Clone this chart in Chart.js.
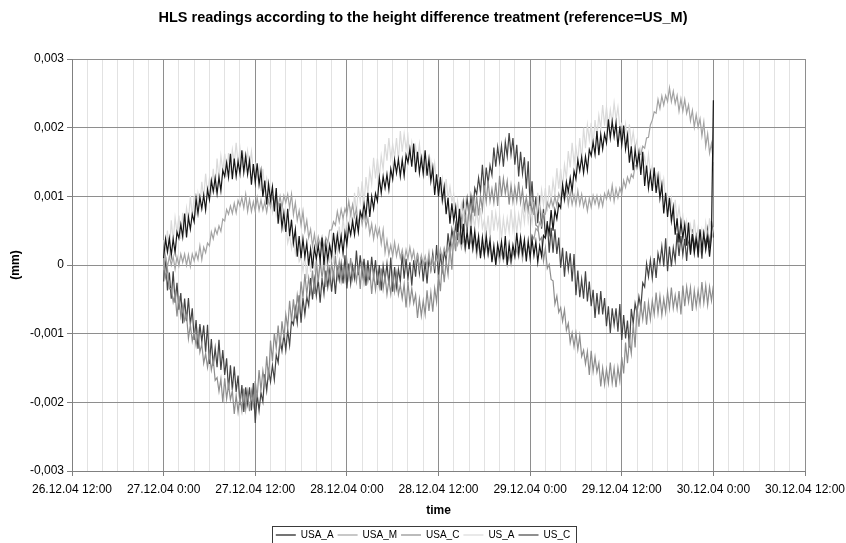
<!DOCTYPE html>
<html>
<head>
<meta charset="utf-8">
<title>HLS readings</title>
<script src="https://cdn.jsdelivr.net/npm/chart.js@4.4.1/dist/chart.umd.min.js"></script>
<style>
    html, body { margin: 0; padding: 0; background: #fff; overflow: hidden; }
    #wrap { width: 846px; height: 543px; overflow: hidden; }
</style>
</head>
<body>
<div id="wrap"><canvas id="hlsChart" width="846" height="550"></canvas></div>
<script>
// axis labels
const xTickLabels = ['26.12.04 12:00', '27.12.04 0:00', '27.12.04 12:00', '28.12.04 0:00', '28.12.04 12:00',
    '29.12.04 0:00', '29.12.04 12:00', '30.12.04 0:00', '30.12.04 12:00'];
const yTickLabels = ['-0,003', '-0,002', '-0,001', '0', '0,001', '0,002', '0,003'];
const seriesNames = ['USA_A', 'USA_M', 'USA_C', 'US_A', 'US_C'];
const seriesColors = ['#161616', '#a3a3a3', '#8e8e8e', '#dadada', '#444444'];

// readings every 15 min starting 27.12.04 0:00, values in µm (0.001 mm), one row = 6 hours
const firstSampleHour = 12;   // hours after 26.12.04 12:00
const sampleStep = 0.25;

const usaA = [
    0.10, 0.38, 0.19, 0.39, 0.14, 0.38, 0.18, 0.48, 0.39, 0.59, 0.41, 0.75, 0.40, 0.70, 0.52, 0.74, 0.63, 0.97, 0.75, 0.99, 0.82, 1.02, 0.80, 1.10,
    0.95, 1.23, 1.07, 1.27, 1.04, 1.28, 1.08, 1.38, 1.29, 1.49, 1.28, 1.62, 1.25, 1.55, 1.29, 1.51, 1.33, 1.67, 1.35, 1.59, 1.32, 1.52, 1.17, 1.47,
    1.20, 1.48, 1.17, 1.37, 0.99, 1.23, 0.88, 1.18, 0.94, 1.14, 0.78, 1.12, 0.60, 0.90, 0.54, 0.76, 0.48, 0.82, 0.42, 0.66, 0.32, 0.52, 0.12, 0.42,
    0.10, 0.38, 0.12, 0.32, -0.01, 0.23, -0.05, 0.25, 0.09, 0.29, 0.06, 0.40, 0.00, 0.30, 0.07, 0.29, 0.13, 0.47, 0.20, 0.44, 0.22, 0.42, 0.17, 0.47,
    0.30, 0.58, 0.44, 0.64, 0.44, 0.68, 0.48, 0.78, 0.69, 0.89, 0.71, 1.05, 0.70, 1.00, 0.82, 1.04, 0.93, 1.27, 1.05, 1.29, 1.12, 1.32, 1.10, 1.40,
    1.25, 1.53, 1.34, 1.54, 1.29, 1.53, 1.30, 1.60, 1.49, 1.69, 1.43, 1.77, 1.35, 1.65, 1.34, 1.56, 1.33, 1.67, 1.30, 1.54, 1.22, 1.42, 1.02, 1.32,
    1.00, 1.28, 0.94, 1.14, 0.74, 0.98, 0.60, 0.90, 0.64, 0.84, 0.48, 0.82, 0.30, 0.60, 0.27, 0.49, 0.23, 0.57, 0.25, 0.49, 0.22, 0.42, 0.10, 0.40,
    0.15, 0.43, 0.17, 0.37, 0.04, 0.28, 0.00, 0.30, 0.14, 0.34, 0.08, 0.42, 0.00, 0.30, 0.07, 0.29, 0.13, 0.47, 0.17, 0.41, 0.17, 0.37, 0.05, 0.35,
    0.10, 0.38, 0.14, 0.34, 0.04, 0.28, 0.13, 0.43, 0.39, 0.59, 0.46, 0.80, 0.50, 0.80, 0.67, 0.89, 0.83, 1.17, 0.97, 1.21, 1.07, 1.27, 1.07, 1.37,
    1.25, 1.53, 1.37, 1.57, 1.34, 1.58, 1.38, 1.68, 1.59, 1.79, 1.61, 1.95, 1.60, 1.90, 1.69, 1.91, 1.78, 2.12, 1.85, 2.09, 1.87, 2.07, 1.72, 2.02,
    1.75, 2.03, 1.69, 1.89, 1.49, 1.73, 1.38, 1.68, 1.44, 1.64, 1.31, 1.65, 1.15, 1.45, 1.12, 1.34, 1.08, 1.42, 1.05, 1.29, 0.97, 1.17, 0.75, 1.05,
    0.70, 0.98, 0.64, 0.84, 0.44, 0.68, 0.33, 0.63, 0.39, 0.59, 0.28, 0.62, 0.15, 0.45, 0.17, 0.39, 0.18, 0.52, 0.22, 0.46, 0.22, 0.42, 0.12, 0.42,
    2.40
];
const usaM = [
    -0.07, 0.13, -0.03, 0.13, 0.00, 0.12, -0.06, 0.12, -0.01, 0.16, 0.04, 0.16, 0.00, 0.15, -0.02, 0.16, 0.06, 0.18, 0.08, 0.28, 0.08, 0.26, 0.18, 0.32,
    0.28, 0.48, 0.38, 0.53, 0.45, 0.57, 0.49, 0.67, 0.64, 0.81, 0.74, 0.86, 0.75, 0.90, 0.76, 0.94, 0.86, 0.98, 0.83, 1.03, 0.78, 0.96, 0.78, 0.92,
    0.78, 0.98, 0.80, 0.95, 0.80, 0.92, 0.77, 0.95, 0.84, 1.01, 0.89, 1.01, 0.85, 1.00, 0.83, 1.01, 0.91, 1.03, 0.83, 1.03, 0.73, 0.91, 0.65, 0.79,
    0.58, 0.78, 0.50, 0.65, 0.40, 0.52, 0.27, 0.45, 0.24, 0.41, 0.29, 0.41, 0.25, 0.40, 0.33, 0.51, 0.51, 0.63, 0.58, 0.78, 0.63, 0.81, 0.68, 0.82,
    0.73, 0.93, 0.73, 0.88, 0.70, 0.82, 0.59, 0.77, 0.59, 0.76, 0.56, 0.68, 0.45, 0.60, 0.38, 0.56, 0.41, 0.53, 0.31, 0.51, 0.18, 0.36, 0.15, 0.29,
    0.13, 0.33, 0.13, 0.28, 0.10, 0.22, 0.04, 0.22, 0.09, 0.26, 0.09, 0.21, 0.00, 0.15, -0.05, 0.14, 0.01, 0.13, -0.02, 0.18, -0.07, 0.11, -0.03, 0.12,
    0.03, 0.23, 0.10, 0.25, 0.15, 0.27, 0.14, 0.32, 0.24, 0.41, 0.29, 0.41, 0.25, 0.40, 0.21, 0.39, 0.26, 0.38, 0.21, 0.41, 0.13, 0.31, 0.13, 0.27,
    0.13, 0.33, 0.13, 0.28, 0.10, 0.22, 0.02, 0.20, 0.04, 0.21, 0.06, 0.18, 0.00, 0.15, 0.01, 0.19, 0.11, 0.23, 0.11, 0.31, 0.08, 0.26, 0.15, 0.29,
    0.23, 0.43, 0.38, 0.53, 0.50, 0.62, 0.57, 0.75, 0.74, 0.91, 0.84, 0.96, 0.85, 1.00, 0.86, 1.04, 0.96, 1.08, 0.93, 1.13, 0.88, 1.06, 0.88, 1.02,
    0.88, 1.08, 0.88, 1.03, 0.85, 0.97, 0.79, 0.97, 0.84, 1.01, 0.89, 1.01, 0.85, 1.00, 0.86, 1.04, 0.96, 1.08, 0.96, 1.16, 0.93, 1.11, 0.98, 1.12,
    1.03, 1.23, 1.13, 1.28, 1.20, 1.32, 1.27, 1.45, 1.44, 1.61, 1.61, 1.73, 1.70, 1.85, 1.86, 2.04, 2.11, 2.23, 2.21, 2.41, 2.28, 2.46, 2.33, 2.47,
    2.38, 2.58, 2.38, 2.53, 2.35, 2.47, 2.24, 2.42, 2.24, 2.41, 2.21, 2.33, 2.10, 2.25, 2.01, 2.19, 2.01, 2.13, 1.88, 2.08, 1.73, 1.91, 1.63, 1.77,
    1.50
];
const usaC = [
    0.06, -0.18, -0.05, -0.35, -0.34, -0.54, -0.41, -0.75, -0.45, -0.75, -0.59, -0.81, -0.73, -1.07, -0.87, -1.11, -0.97, -1.17, -0.97, -1.27, -1.15, -1.43, -1.29, -1.49,
    -1.29, -1.53, -1.38, -1.68, -1.64, -1.84, -1.66, -2.00, -1.65, -1.95, -1.74, -1.96, -1.83, -2.17, -1.90, -2.14, -1.92, -2.12, -1.80, -2.10, -1.85, -2.13, -1.84, -2.04,
    -1.69, -1.93, -1.53, -1.83, -1.54, -1.74, -1.33, -1.67, -1.10, -1.40, -0.99, -1.21, -0.88, -1.22, -0.82, -1.06, -0.72, -0.92, -0.52, -0.82, -0.50, -0.78, -0.44, -0.64,
    -0.24, -0.48, -0.13, -0.43, -0.19, -0.39, -0.08, -0.42, 0.05, -0.25, 0.04, -0.19, 0.02, -0.32, 0.00, -0.24, 0.03, -0.17, 0.13, -0.17, 0.05, -0.23, -0.02, -0.22,
    0.06, -0.18, 0.10, -0.20, -0.04, -0.24, 0.00, -0.35, 0.05, -0.25, -0.02, -0.24, -0.08, -0.42, -0.12, -0.36, -0.12, -0.32, -0.05, -0.35, -0.15, -0.43, -0.22, -0.42,
    -0.14, -0.38, -0.13, -0.43, -0.29, -0.49, -0.28, -0.62, -0.25, -0.55, -0.34, -0.56, -0.43, -0.77, -0.50, -0.74, -0.52, -0.72, -0.37, -0.67, -0.40, -0.68, -0.34, -0.54,
    -0.14, -0.38, 0.05, -0.25, 0.06, -0.14, 0.27, -0.07, 0.50, 0.20, 0.59, 0.37, 0.67, 0.33, 0.73, 0.49, 0.83, 0.63, 1.01, 0.71, 1.00, 0.72, 1.01, 0.81,
    1.16, 0.92, 1.23, 0.93, 1.11, 0.91, 1.20, 0.86, 1.30, 1.00, 1.26, 1.04, 1.22, 0.88, 1.16, 0.92, 1.13, 0.93, 1.21, 0.91, 1.10, 0.82, 0.99, 0.79,
    1.01, 0.77, 0.88, 0.58, 0.56, 0.36, 0.40, 0.06, 0.25, -0.05, 0.01, -0.21, -0.23, -0.57, -0.45, -0.69, -0.62, -0.82, -0.65, -0.95, -0.85, -1.13, -0.99, -1.19,
    -0.99, -1.23, -1.03, -1.33, -1.24, -1.44, -1.26, -1.60, -1.25, -1.55, -1.34, -1.56, -1.43, -1.77, -1.50, -1.74, -1.52, -1.72, -1.42, -1.72, -1.50, -1.78, -1.49, -1.69,
    -1.34, -1.58, -1.13, -1.43, -1.09, -1.29, -0.86, -1.20, -0.60, -0.90, -0.57, -0.79, -0.53, -0.87, -0.55, -0.79, -0.52, -0.72, -0.40, -0.70, -0.45, -0.73, -0.49, -0.69,
    -0.39, -0.63, -0.33, -0.63, -0.44, -0.64, -0.38, -0.72, -0.30, -0.60, -0.32, -0.54, -0.33, -0.67, -0.37, -0.61, -0.37, -0.57, -0.25, -0.55, -0.30, -0.58, -0.32, -0.52,
    -0.30
];
const usA = [
    0.36, 0.16, 0.50, 0.16, 0.65, 0.35, 0.69, 0.47, 0.72, 0.38, 0.76, 0.52, 0.83, 0.63, 1.01, 0.71, 1.00, 0.72, 1.04, 0.84, 1.21, 0.97, 1.33, 1.03,
    1.26, 1.06, 1.40, 1.06, 1.55, 1.25, 1.59, 1.37, 1.62, 1.28, 1.63, 1.39, 1.68, 1.48, 1.78, 1.48, 1.70, 1.42, 1.61, 1.41, 1.66, 1.42, 1.65, 1.35,
    1.46, 1.26, 1.42, 1.08, 1.40, 1.10, 1.26, 1.04, 1.12, 0.78, 0.96, 0.72, 0.83, 0.63, 0.81, 0.51, 0.60, 0.32, 0.44, 0.24, 0.41, 0.17, 0.35, 0.05,
    0.11, -0.09, 0.15, -0.20, 0.20, -0.10, 0.16, -0.06, 0.12, -0.22, 0.13, -0.11, 0.18, -0.02, 0.33, 0.03, 0.30, 0.02, 0.36, 0.16, 0.56, 0.32, 0.70, 0.40,
    0.66, 0.46, 0.85, 0.51, 1.05, 0.75, 1.14, 0.92, 1.22, 0.88, 1.28, 1.04, 1.38, 1.18, 1.56, 1.26, 1.55, 1.27, 1.59, 1.39, 1.76, 1.52, 1.85, 1.55,
    1.76, 1.56, 1.85, 1.51, 1.95, 1.65, 1.91, 1.69, 1.87, 1.53, 1.78, 1.54, 1.73, 1.53, 1.76, 1.46, 1.60, 1.32, 1.49, 1.29, 1.51, 1.27, 1.48, 1.18,
    1.26, 1.06, 1.25, 0.91, 1.25, 0.95, 1.14, 0.92, 1.02, 0.68, 0.93, 0.69, 0.88, 0.68, 0.93, 0.63, 0.80, 0.52, 0.74, 0.54, 0.81, 0.57, 0.83, 0.53,
    0.66, 0.46, 0.72, 0.38, 0.80, 0.50, 0.76, 0.54, 0.72, 0.38, 0.68, 0.44, 0.68, 0.48, 0.81, 0.51, 0.75, 0.47, 0.74, 0.54, 0.86, 0.62, 0.93, 0.63,
    0.81, 0.61, 0.92, 0.58, 1.05, 0.75, 1.09, 0.87, 1.12, 0.78, 1.16, 0.92, 1.23, 1.03, 1.41, 1.11, 1.40, 1.12, 1.46, 1.26, 1.66, 1.42, 1.78, 1.48,
    1.71, 1.51, 1.85, 1.51, 2.00, 1.70, 2.04, 1.82, 2.07, 1.73, 2.11, 1.87, 2.18, 1.98, 2.33, 2.03, 2.30, 2.02, 2.26, 2.06, 2.36, 2.12, 2.30, 2.00,
    2.06, 1.86, 2.05, 1.71, 2.05, 1.75, 1.94, 1.72, 1.82, 1.48, 1.68, 1.44, 1.58, 1.38, 1.61, 1.31, 1.45, 1.17, 1.31, 1.11, 1.31, 1.07, 1.25, 0.95,
    1.01, 0.81, 0.97, 0.63, 0.95, 0.65, 0.84, 0.62, 0.72, 0.38, 0.63, 0.39, 0.58, 0.38, 0.66, 0.36, 0.55, 0.27, 0.51, 0.31, 0.61, 0.37, 0.68, 0.38,
    0.55
];
const usC = [
    -0.24, 0.12, -0.37, -0.11, -0.49, -0.09, -0.55, -0.26, -0.65, -0.41, -0.85, -0.49, -0.82, -0.48, -0.87, -0.63, -1.09, -0.80, -1.22, -0.86, -1.12, -0.88, -1.27, -0.87,
    -1.44, -1.08, -1.47, -1.21, -1.49, -1.09, -1.53, -1.24, -1.60, -1.36, -1.82, -1.46, -1.82, -1.48, -1.85, -1.61, -2.04, -1.75, -2.14, -1.78, -2.02, -1.78, -2.12, -1.72,
    -2.30, -1.88, -2.12, -1.86, -1.99, -1.59, -1.83, -1.54, -1.70, -1.46, -1.67, -1.31, -1.42, -1.08, -1.25, -1.01, -1.24, -0.95, -1.17, -0.81, -0.87, -0.63, -0.84, -0.44,
    -0.84, -0.48, -0.72, -0.46, -0.59, -0.19, -0.50, -0.21, -0.45, -0.21, -0.55, -0.19, -0.42, -0.08, -0.32, -0.08, -0.39, -0.10, -0.42, -0.06, -0.22, 0.02, -0.27, 0.14,
    -0.34, 0.02, -0.27, -0.01, -0.19, 0.21, -0.15, 0.14, -0.15, 0.09, -0.30, 0.07, -0.22, 0.12, -0.17, 0.07, -0.29, 0.00, -0.37, -0.01, -0.22, 0.02, -0.29, 0.11,
    -0.39, -0.03, -0.32, -0.06, -0.24, 0.16, -0.20, 0.09, -0.20, 0.04, -0.30, 0.07, -0.17, 0.17, -0.12, 0.12, -0.24, 0.05, -0.27, 0.10, -0.07, 0.17, -0.12, 0.29,
    -0.19, 0.17, -0.07, 0.20, 0.06, 0.46, 0.23, 0.52, 0.35, 0.59, 0.36, 0.72, 0.58, 0.92, 0.73, 0.97, 0.71, 1.00, 0.76, 1.12, 1.03, 1.27, 1.06, 1.46,
    1.06, 1.42, 1.19, 1.45, 1.31, 1.71, 1.43, 1.72, 1.50, 1.74, 1.43, 1.79, 1.58, 1.92, 1.61, 1.85, 1.46, 1.75, 1.29, 1.65, 1.33, 1.57, 1.11, 1.51,
    0.86, 1.22, 0.73, 0.99, 0.61, 1.01, 0.53, 0.82, 0.40, 0.64, 0.18, 0.54, 0.18, 0.52, 0.16, 0.40, -0.04, 0.25, -0.17, 0.20, -0.07, 0.17, -0.24, 0.16,
    -0.44, -0.08, -0.47, -0.21, -0.49, -0.09, -0.53, -0.24, -0.60, -0.36, -0.77, -0.41, -0.72, -0.38, -0.72, -0.48, -0.89, -0.60, -0.99, -0.63, -0.87, -0.63, -0.97, -0.57,
    -1.09, -0.73, -1.07, -0.81, -1.20, -0.64, -0.85, -0.56, -0.70, -0.46, -0.62, -0.26, -0.32, 0.02, -0.17, 0.07, -0.19, 0.10, -0.19, 0.17, 0.03, 0.27, -0.02, 0.39,
    -0.09, 0.27, -0.02, 0.25, 0.06, 0.46, 0.13, 0.42, 0.15, 0.39, 0.06, 0.42, 0.18, 0.52, 0.23, 0.47, 0.11, 0.40, 0.09, 0.45, 0.28, 0.52, 0.24, 0.64,
    0.40
];

const seriesValues = [usaA, usaM, usaC, usA, usC];

const FONT = "'Liberation Sans', Arial, sans-serif";
const PLOT_LEFT = 72;
const PLOT_BOTTOM = 471;
const PLOT_RIGHT_GAP = 41;

function toPoints(values) {
    return values.map((v, i) => ({ x: firstSampleHour + i * sampleStep, y: v / 1000 }));
}

// Excel-style frame round the legend (bottom edge falls outside the page)
const legendFrame = {
    id: 'legendFrame',
    afterDraw(chart) {
        const lg = chart.legend;
        if (!lg || !lg.legendHitBoxes || !lg.legendHitBoxes.length) return;
        const boxes = lg.legendHitBoxes;
        const left = Math.min(...boxes.map(b => b.left)) - 4;
        const right = Math.max(...boxes.map(b => b.left + b.width)) + 6;
        const top = Math.min(...boxes.map(b => b.top)) - 4;
        const ctx = chart.ctx;
        ctx.save();
        ctx.strokeStyle = '#3a3a3a';
        ctx.lineWidth = 1;
        ctx.strokeRect(Math.round(left) + 0.5, Math.round(top) + 0.5, Math.round(right - left), chart.height);
        ctx.restore();
    }
};

new Chart(document.getElementById('hlsChart'), {
    type: 'line',
    data: {
        datasets: seriesNames.map((name, i) => ({
            label: name,
            data: toPoints(seriesValues[i]),
            borderColor: seriesColors[i],
            backgroundColor: seriesColors[i],
            borderWidth: 1.2,
            pointRadius: 0,
            tension: 0,
            fill: false
        }))
    },
    options: {
        responsive: false,
        animation: false,
        events: [],
        layout: { padding: 0 },
        plugins: {
            title: {
                display: true,
                text: 'HLS readings according to the height difference treatment (reference=US_M)',
                color: '#000',
                font: { family: FONT, size: 14.5, weight: 'bold' },
                padding: { top: 9, bottom: 32.6 }
            },
            legend: {
                position: 'bottom',
                labels: {
                    usePointStyle: true,
                    pointStyle: 'line',
                    pointStyleWidth: 20,
                    color: '#000',
                    font: { family: FONT, size: 10 },
                    padding: 4
                }
            },
            tooltip: { enabled: false }
        },
        scales: {
            x: {
                type: 'linear',
                min: 0,
                max: 96,
                afterFit: s => {
                    s.height = s.chart.height - s.chart.legend.height - PLOT_BOTTOM;
                    s.paddingLeft = 0;
                    s.paddingRight = PLOT_RIGHT_GAP;
                },
                ticks: {
                    stepSize: 2,
                    autoSkip: false,
                    maxRotation: 0,
                    color: '#000',
                    font: { family: FONT, size: 12 },
                    padding: 6,
                    callback: v => (v % 12 === 0 ? xTickLabels[v / 12] : '')
                },
                grid: {
                    color: c => (c.tick && c.tick.value % 12 === 0 ? '#8e8e8e' : '#e2e2e2'),
                    tickColor: c => (c.tick && c.tick.value % 12 === 0 ? '#808080' : 'rgba(0,0,0,0)'),
                    tickLength: 5
                },
                border: { color: '#808080' },
                title: {
                    display: true,
                    text: 'time',
                    color: '#000',
                    font: { family: FONT, size: 12, weight: 'bold' },
                    padding: { top: 4, bottom: 8 }
                }
            },
            y: {
                min: -0.003,
                max: 0.003,
                afterFit: s => { s.width = PLOT_LEFT; },
                ticks: {
                    stepSize: 0.001,
                    color: '#000',
                    font: { family: FONT, size: 12 },
                    padding: 3,
                    callback: (v, i) => yTickLabels[i]
                },
                grid: { color: '#8e8e8e', tickColor: '#808080', tickLength: 5 },
                border: { color: '#808080' },
                title: {
                    display: true,
                    text: '(mm)',
                    color: '#000',
                    font: { family: FONT, size: 12, weight: 'bold' },
                    padding: { top: 8, bottom: 0 }
                }
            }
        }
    },
    plugins: [legendFrame]
});
</script>
</body>
</html>
